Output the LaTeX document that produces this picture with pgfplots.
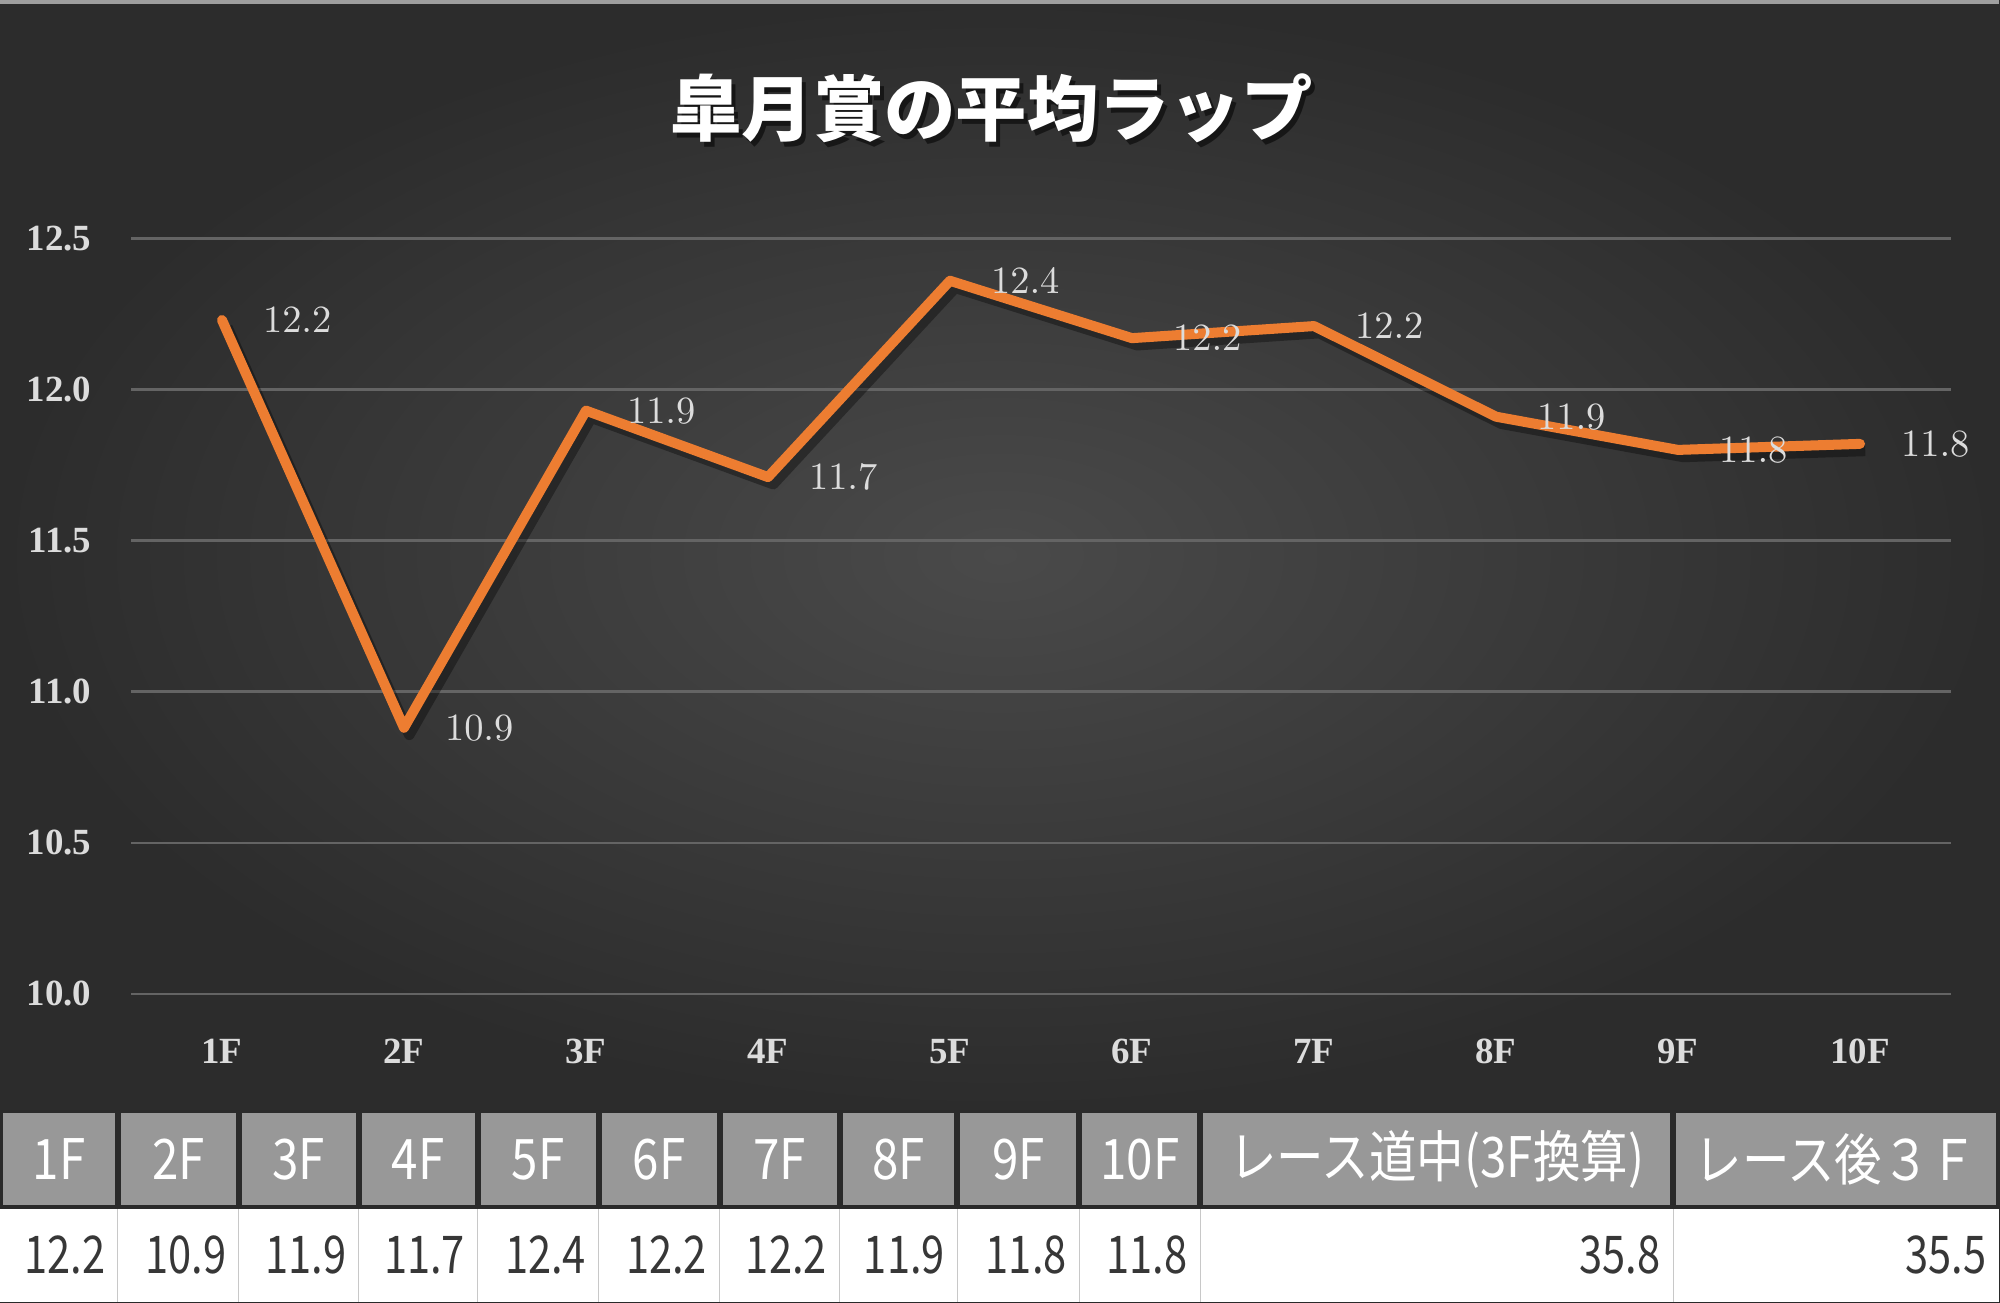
\documentclass[border=0pt]{standalone}
\usepackage{pgfplots}
\pgfplotsset{compat=1.18}
\usepackage{pgfplotstable}
\usepackage{fontspec}
\setmainfont{Liberation Serif}
\newfontfamily\cjk{Noto Sans CJK JP}
\newfontfamily\cjkhead[FakeStretch=0.85]{Noto Sans CJK JP}
\newfontfamily\cjkdata[FakeStretch=0.8]{Noto Sans CJK JP}
\definecolor{bgin}{RGB}{74,74,74}
\definecolor{bgout}{RGB}{44,44,44}
\definecolor{gridc}{RGB}{100,100,100}
\definecolor{lineor}{RGB}{237,125,49}
\definecolor{lbl}{RGB}{220,220,220}
\definecolor{headg}{RGB}{152,152,152}
\definecolor{sep}{RGB}{42,42,42}
\definecolor{datatext}{RGB}{55,55,55}
\definecolor{cellline}{RGB}{200,200,200}

\pgfplotstableread{
x y
1 12.23
2 10.88
3 11.93
4 11.71
5 12.36
6 12.17
7 12.21
8 11.91
9 11.80
10 11.82
}\lapdata

\begin{document}
\begin{tikzpicture}
\useasboundingbox (0,0) rectangle (20cm,13.03cm);
\fill[sep] (0,0) rectangle (20cm,13.03cm);
\shade[inner color=bgin, outer color=bgout] (0,1.93cm) rectangle (20cm,13.03cm);
\begin{scope}[x=0.01cm,y=-0.01cm,shift={(0,13.03cm)}]
  \fill[gray!75] (0,0) rectangle (2000,4);
  % title
  \node[text=black, opacity=0.55] at (996,113) {\cjk\bfseries\fontsize{20.3pt}{24pt}\selectfont 皐月賞の平均ラップ};
  \node[text=white] at (992,108) {\cjk\bfseries\fontsize{20.3pt}{24pt}\selectfont 皐月賞の平均ラップ};
  % table header
  \foreach \l/\r/\t in {0/118/1F, 118/239/2F, 239/359/3F, 359/478/4F, 478/599/5F, 599/720/6F, 720/840/7F, 840/958/8F, 958/1080/9F, 1080/1201/10F, 1201/1674/{レース道中(3F換算)}, 1674/2000/{レース後３Ｆ}} {
    \fill[headg] (\l+3,1114) rectangle (\r-3,1206);
    \node[text=white, inner sep=0pt] at ({(\l+\r)/2},1160) {\cjkhead\fontsize{15.9pt}{18pt}\selectfont \t};
  }
  % data row
  \fill[white] (0,1210) rectangle (2000,1303);
  \foreach \b in {118,239,359,478,599,720,840,958,1080,1201,1674} {
    \draw[cellline, line width=0.3pt] (\b,1210) -- (\b,1303);
  }
  \foreach \r/\v in {118/12.2, 239/10.9, 359/11.9, 478/11.7, 599/12.4, 720/12.2, 840/12.2, 958/11.9, 1080/11.8, 1201/11.8, 1674/35.8, 2000/35.5} {
    \node[text=datatext, anchor=east, inner sep=0pt] at (\r-12,1256) {\cjkdata\fontsize{14.8pt}{17pt}\selectfont \v};
  }
\end{scope}
\begin{axis}[
  at={(1.31cm,3.094cm)}, anchor=south west,
  scale only axis, width=18.2cm, height=7.551cm,
  xmin=0.5, xmax=10.5, ymin=10, ymax=12.5,
  clip=false,
  xtick={1,2,3,4,5,6,7,8,9,10},
  xticklabels={1F,2F,3F,4F,5F,6F,7F,8F,9F,10F},
  ytick={10,10.5,11,11.5,12,12.5},
  axis line style={draw=none},
  major tick length=0pt,
  ymajorgrids,
  grid style={gridc, line width=0.6pt},
  tick label style={font=\fontsize{10.5pt}{12pt}\selectfont\bfseries, text=lbl},
  yticklabel style={inner sep=0pt, anchor=east, xshift=-0.39cm, /pgf/number format/fixed, /pgf/number format/fixed zerofill, /pgf/number format/precision=1, /pgf/number format/assume math mode=true},
  xticklabel style={inner sep=0pt, anchor=center, yshift=-0.58cm},
]
\addplot[black, opacity=0.35, line width=3pt, line join=round, xshift=1.5pt, yshift=-2pt, forget plot] table[x=x,y=y] {\lapdata};
\addplot[lineor, line width=2.85pt, line join=round, line cap=round,
  nodes near coords={\pgfmathprintnumber[fixed,fixed zerofill,precision=1]{\pgfplotspointmeta}},
  nodes near coords style={anchor=west, inner sep=0pt, xshift=0.36cm, text=lbl, font=\fontsize{11pt}{13pt}\selectfont},
] table[x=x,y=y] {\lapdata};
\end{axis}
\end{tikzpicture}
\end{document}
